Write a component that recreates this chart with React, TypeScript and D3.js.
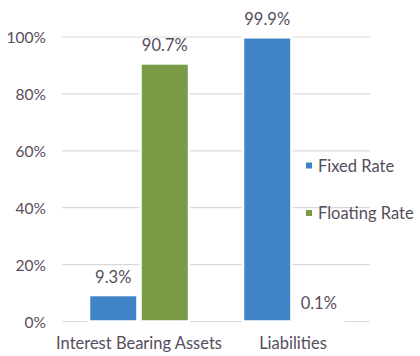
import React from "react";
import * as d3 from "d3";

const categories = ["Interest Bearing Assets", "Liabilities"];
const seriesNames = ["Fixed Rate", "Floating Rate"];
const fixedRate = [0.093, 0.999];
const floatingRate = [0.907, 0.001];
const valueLabels = [["9.3%", "90.7%"], ["99.9%", "0.1%"]];
const yTicks = [0, 0.2, 0.4, 0.6, 0.8, 1.0];

const W = 420;
const H = 356;
const colors = ["#3f84c6", "#799b45"];
const textColor = "#564d5c";
const font = "Lato, 'Open Sans', sans-serif";
const fs = 16.5;

export default function App() {
  const x0 = d3.scaleBand<string>().domain(categories).range([62, 370]).padding(0);
  const x1 = d3.scaleBand<string>().domain(seriesNames).range([27, 127]).paddingInner(0.06);
  const y = d3.scaleLinear().domain([0, 1]).range([321.5, 37]);
  const fmt = d3.format(".0%");
  const series = [fixedRate, floatingRate];

  return (
    <div style={{ position: "absolute", left: 0, top: 0 }}>
      <svg width={W} height={H} style={{ display: "block", background: "#fff" }}>
        {yTicks.map((t) => (
          <g key={t}>
            <line x1={62} x2={370} y1={y(t)} y2={y(t)} stroke="#d9d9d9" strokeWidth={1.2} />
            <text x={46} y={y(t) + 6} textAnchor="end" fontFamily={font} fontSize={15.5} fill={textColor}>
              {fmt(t)}
            </text>
          </g>
        ))}
        {categories.map((c, ci) => (
          <g key={c} transform={`translate(${x0(c)},0)`}>
            {seriesNames.map((s, si) => {
              const v = series[si][ci];
              const bx = x1(s)!;
              const bw = x1.bandwidth();
              return (
                <g key={s}>
                  <rect
                    x={bx}
                    y={y(v)}
                    width={bw}
                    height={y(0) - y(v)}
                    fill={colors[si]}
                    stroke="#fff"
                    strokeWidth={2.5}
                  />
                  <text
                    x={bx + bw / 2}
                    y={y(v) - 12}
                    textAnchor="middle"
                    fontFamily={font}
                    fontSize={fs}
                    fill={textColor}
                  >
                    {valueLabels[ci][si]}
                  </text>
                </g>
              );
            })}
            <text
              x={x0.bandwidth() / 2}
              y={349}
              textAnchor="middle"
              fontFamily={font}
              fontSize={fs}
              fill={textColor}
            >
              {c}
            </text>
          </g>
        ))}
        {seriesNames.map((s, si) => (
          <g key={s} transform={`translate(306,${165.5 + si * 47.5})`}>
            <rect x={0} y={-3} width={6} height={6} fill={colors[si]} />
            <text x={12} y={6} fontFamily={font} fontSize={fs} fill={textColor}>
              {s}
            </text>
          </g>
        ))}
      </svg>
    </div>
  );
}
